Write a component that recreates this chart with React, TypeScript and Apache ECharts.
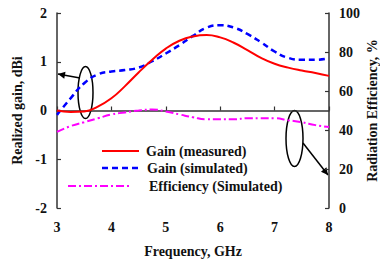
import React, { useEffect, useRef } from "react";
import * as echarts from "echarts";

const freq = [3, 3.25, 3.5, 3.75, 4, 4.25, 4.5, 4.75, 5, 5.25, 5.5, 5.75, 6, 6.25, 6.5, 6.75, 7, 7.25, 7.5, 7.75, 8];
const gainMeasured = [0.0, -0.03, -0.02, 0.08, 0.25, 0.5, 0.78, 1.04, 1.27, 1.43, 1.52, 1.55, 1.5, 1.39, 1.24, 1.08, 0.96, 0.88, 0.82, 0.77, 0.71];
const gainSimulated = [-0.09, 0.25, 0.56, 0.74, 0.8, 0.83, 0.88, 1.01, 1.17, 1.34, 1.53, 1.7, 1.75, 1.7, 1.57, 1.4, 1.21, 1.08, 1.04, 1.04, 1.07];
const efficiency = [39, 42, 44, 46, 48, 49, 50, 50.5, 49.5, 48, 46.5, 45.5, 45.5, 45.5, 46, 46, 46, 45, 44, 42.5, 41.5];

const xTicks = [3, 4, 5, 6, 7, 8];
const legendNames = ["Gain (measured)", "Gain (simulated)", "Efficiency (Simulated)"];

const FONT = "Liberation Serif";

function arrowHead(x1: number, y1: number, x2: number, y2: number, len: number, half: number) {
  const dx = x2 - x1, dy = y2 - y1;
  const d = Math.sqrt(dx * dx + dy * dy);
  const ux = dx / d, uy = dy / d;
  const bx = x2 - ux * len, by = y2 - uy * len;
  const px = -uy * half, py = ux * half;
  return [[x2, y2], [bx + px, by + py], [bx - px, by - py]];
}

export default function App() {
  const ref = useRef<HTMLDivElement>(null);
  useEffect(() => {
    if (!ref.current) return;
    const chart = echarts.init(ref.current, undefined, { renderer: "svg" });
    const axisLabel = { fontFamily: FONT, fontWeight: "bold" as const, fontSize: 14, color: "#111" };
    const axisLine = { show: true, lineStyle: { color: "#333", width: 1.5 } };
    const axisTick = { show: true, inside: true, length: 4, lineStyle: { color: "#333", width: 1.2 } };
    const nameStyle = { fontFamily: FONT, fontWeight: "bold" as const, fontSize: 14, color: "#111" };

    const leftArrow = { x1: 80, y1: 78, x2: 58, y2: 74 };
    const rightArrow = { x1: 303, y1: 143, x2: 328, y2: 175 };

    chart.setOption({
      animation: false,
      grid: { left: 57, right: 51, top: 13, bottom: 60, containLabel: false, outerBoundsMode: "none" },
      xAxis: {
        type: "value",
        min: 3,
        max: 8,
        interval: 1,
        name: "Frequency, GHz",
        nameLocation: "middle",
        nameGap: 36,
        nameTextStyle: nameStyle,
        axisLine,
        axisTick,
        axisLabel: { ...axisLabel, margin: 12, formatter: (v: number) => (xTicks.includes(v) ? String(v) : "") },
        splitLine: { show: false },
      },
      yAxis: [
        {
          type: "value",
          min: -2,
          max: 2,
          interval: 1,
          name: "Realized gain, dBi",
          nameLocation: "middle",
          nameRotate: 90,
          nameGap: 32,
          nameTextStyle: nameStyle,
          axisLine,
          axisTick,
          axisLabel: { ...axisLabel, margin: 10 },
          splitLine: { show: false },
        },
        {
          type: "value",
          min: 0,
          max: 100,
          interval: 20,
          position: "right",
          name: "Radiation Efficiency, %",
          nameLocation: "middle",
          nameRotate: 90,
          nameGap: 36,
          nameMoveOverlap: false,
          nameTextStyle: nameStyle,
          axisLine,
          axisTick,
          axisLabel: { ...axisLabel, margin: 10 },
          splitLine: { show: false },
        },
      ],
      series: [
        {
          name: legendNames[0],
          type: "line",
          smooth: true,
          showSymbol: false,
          yAxisIndex: 0,
          data: freq.map((f, i) => [f, gainMeasured[i]]),
          lineStyle: { color: "#ff0000", width: 2 },
          z: 3,
        },
        {
          name: legendNames[1],
          type: "line",
          smooth: true,
          showSymbol: false,
          yAxisIndex: 0,
          data: freq.map((f, i) => [f, gainSimulated[i]]),
          lineStyle: { color: "#0000ff", width: 2.5, type: [6, 4] },
          z: 2,
        },
        {
          name: legendNames[2],
          type: "line",
          smooth: true,
          showSymbol: false,
          yAxisIndex: 1,
          data: freq.map((f, i) => [f, efficiency[i]]),
          lineStyle: { color: "#ff00ff", width: 2, type: [8, 3, 2, 3] },
          z: 1,
        },
      ],
      graphic: [
        { type: "line", shape: { x1: 102, y1: 151, x2: 139, y2: 151 }, style: { stroke: "#ff0000", lineWidth: 2 } },
        { type: "line", shape: { x1: 102, y1: 168, x2: 139, y2: 168 }, style: { stroke: "#0000ff", lineWidth: 2.5, lineDash: [6, 4] } },
        { type: "line", shape: { x1: 68, y1: 186, x2: 130, y2: 186 }, style: { stroke: "#ff00ff", lineWidth: 2, lineDash: [8, 3, 2, 3] } },
        { type: "text", x: 146, y: 151, style: { text: legendNames[0], font: `bold 14px "${FONT}"`, fill: "#111", verticalAlign: "middle" } },
        { type: "text", x: 147, y: 168, style: { text: legendNames[1], font: `bold 14px "${FONT}"`, fill: "#111", verticalAlign: "middle" } },
        { type: "text", x: 149, y: 186, style: { text: legendNames[2], font: `bold 14px "${FONT}"`, fill: "#111", verticalAlign: "middle" } },
        { type: "ellipse", shape: { cx: 85.5, cy: 92.5, rx: 7.5, ry: 26 }, style: { fill: "none", stroke: "#000", lineWidth: 1.5 } },
        { type: "line", shape: leftArrow, style: { stroke: "#000", lineWidth: 1.5 } },
        { type: "polygon", shape: { points: arrowHead(leftArrow.x1, leftArrow.y1, leftArrow.x2, leftArrow.y2, 7, 3.5) }, style: { fill: "#000" } },
        { type: "ellipse", shape: { cx: 294.5, cy: 138.5, rx: 8.5, ry: 28 }, style: { fill: "none", stroke: "#000", lineWidth: 1.5 } },
        { type: "line", shape: rightArrow, style: { stroke: "#000", lineWidth: 1.5 } },
        { type: "polygon", shape: { points: arrowHead(rightArrow.x1, rightArrow.y1, rightArrow.x2, rightArrow.y2, 7, 3.5) }, style: { fill: "#000" } },
      ],
    });
    return () => chart.dispose();
  }, []);
  return <div ref={ref} style={{ position: "absolute", left: 0, top: 0, width: 380, height: 268 }} />;
}
